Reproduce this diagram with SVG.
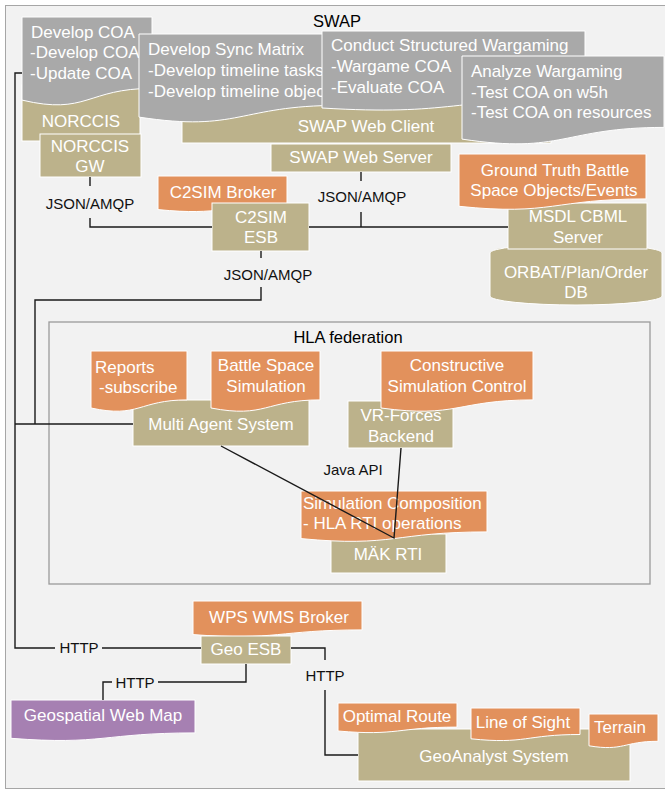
<svg xmlns="http://www.w3.org/2000/svg" width="665" height="790" viewBox="0 0 665 790">
  <style>
    .gray { fill: #a9a9a9; stroke: #ffffff; stroke-width: 1; }
    .tan { fill: #bcb28b; stroke: #ffffff; stroke-width: 1; }
    .orange { fill: #e2915c; stroke: #ffffff; stroke-width: 1; }
    .purple { fill: #a680b2; stroke: #ffffff; stroke-width: 1; }
    .t { font-family: "Liberation Sans", Arial, sans-serif; font-size: 17px; fill: #ffffff; }
    .c { text-anchor: middle; }
    .lbl { font-family: "Liberation Sans", Arial, sans-serif; font-size: 15px; fill: #111111; text-anchor: middle; }
    .title { font-family: "Liberation Sans", Arial, sans-serif; font-size: 16.5px; fill: #000000; text-anchor: middle; }
    .wire { fill: none; stroke: #1a1a1a; stroke-width: 1.4; }
  </style>

  <!-- canvas -->
  <rect x="0" y="0" width="665" height="790" fill="#ffffff"/>
  <rect x="5.5" y="5.5" width="670" height="783" fill="#f2f2f2" stroke="#a6a6a6" stroke-width="1"/>

  <!-- HLA federation frame -->
  <g id="hla-federation">
    <rect x="49" y="322" width="601" height="262" fill="#f2f2f2" stroke="#9a9a9a" stroke-width="1.3"/>
    <text class="title" x="348" y="343">HLA federation</text>
  </g>

  <text class="title" x="337" y="27">SWAP</text>

  <!-- SWAP / NORCCIS cluster -->
  <g id="norccis">
    <rect class="tan" x="22" y="85" width="118" height="56"/>
    <text class="t c" x="81" y="127">NORCCIS</text>
  </g>
  <g id="norccis-gw">
    <rect class="tan" x="40" y="134" width="101" height="43"/>
    <text class="t c" x="90" y="152">NORCCIS</text>
    <text class="t c" x="90" y="172">GW</text>
  </g>
  <g id="develop-coa">
    <path class="gray" d="M22,17 H152 V88.4 C87,88.4 87,115.5 22,100.1 Z"/>
    <text class="t" x="31" y="38">Develop COA</text>
    <text class="t" x="30" y="58">-Develop COA</text>
    <text class="t" x="30" y="79">-Update COA</text>
  </g>
  <g id="swap-web-client">
    <rect class="tan" x="182" y="100" width="369" height="43"/>
    <text class="t c" x="366" y="132">SWAP Web Client</text>
  </g>
  <g id="develop-sync-matrix">
    <path class="gray" d="M139,34 H339 V105.4 C239,105.4 239,132.5 139,117.1 Z"/>
    <text class="t" x="148" y="55">Develop Sync Matrix</text>
    <text class="t" x="148" y="76">-Develop timeline tasks</text>
    <text class="t" x="148" y="97">-Develop timeline objects</text>
  </g>
  <g id="conduct-wargaming">
    <path class="gray" d="M322,31 H585 V98 C453.5,98 453.5,116 322,108 Z"/>
    <text class="t" x="331" y="51">Conduct Structured Wargaming</text>
    <text class="t" x="331" y="72">-Wargame COA</text>
    <text class="t" x="331" y="93">-Evaluate COA</text>
  </g>
  <g id="analyze-wargaming">
    <path class="gray" d="M462,56 H664 V127.4 C563,127.4 563,154.5 462,139.1 Z"/>
    <text class="t" x="471" y="77">Analyze Wargaming</text>
    <text class="t" x="471" y="98">-Test COA on w5h</text>
    <text class="t" x="471" y="118">-Test COA on resources</text>
  </g>
  <g id="swap-web-server">
    <rect class="tan" x="271" y="144" width="180" height="28"/>
    <text class="t c" x="361" y="163">SWAP Web Server</text>
  </g>

  <!-- C2SIM -->
  <g id="c2sim-broker">
    <path class="orange" d="M158,176 H287 V204.9 C222.5,204.9 222.5,215.9 158,209.6 Z"/>
    <text class="t c" x="223" y="198">C2SIM Broker</text>
  </g>
  <g id="c2sim-esb">
    <rect class="tan" x="212" y="203" width="97" height="48"/>
    <text class="t c" x="261" y="223">C2SIM</text>
    <text class="t c" x="261" y="243">ESB</text>
  </g>

  <!-- MSDL / DB -->
  <g id="orbat-db">
    <path class="tan" d="M490,253 A86,9 0 0 1 662,253 V296 A86,9 0 0 1 490,296 Z"/>
    <text class="t c" x="576" y="278">ORBAT/Plan/Order</text>
    <text class="t c" x="576" y="298">DB</text>
  </g>
  <g id="msdl-cbml-server">
    <rect class="tan" x="508" y="203" width="139" height="46"/>
    <text class="t c" x="578" y="222">MSDL CBML</text>
    <text class="t c" x="578" y="243">Server</text>
  </g>
  <g id="ground-truth">
    <path class="orange" d="M459,154 H646 V198.9 C552.5,198.9 552.5,216 459,206.3 Z"/>
    <text class="t c" x="555" y="176">Ground Truth Battle</text>
    <text class="t c" x="554" y="196">Space Objects/Events</text>
  </g>

  <!-- HLA members -->
  <g id="multi-agent-system">
    <rect class="tan" x="133" y="400" width="176" height="46"/>
    <text class="t c" x="221" y="430">Multi Agent System</text>
  </g>
  <g id="reports">
    <path class="orange" d="M91,351 H187 V399.9 C139,399.9 139,418.5 91,408 Z"/>
    <text class="t" x="95" y="373">Reports</text>
    <text class="t" x="99" y="393">-subscribe</text>
  </g>
  <g id="battle-space-simulation">
    <path class="orange" d="M211,351 H320 V399.9 C265.5,399.9 265.5,418.5 211,408 Z"/>
    <text class="t c" x="266" y="371">Battle Space</text>
    <text class="t c" x="266" y="392">Simulation</text>
  </g>
  <g id="vr-forces-backend">
    <rect class="tan" x="348" y="401" width="105" height="47"/>
    <text class="t c" x="401" y="421">VR-Forces</text>
    <text class="t c" x="401" y="442">Backend</text>
  </g>
  <g id="constructive-simulation-control">
    <path class="orange" d="M381,351 H533 V399.9 C457,399.9 457,418.5 381,408 Z"/>
    <text class="t c" x="457" y="371">Constructive</text>
    <text class="t c" x="457" y="392">Simulation Control</text>
  </g>
  <g id="mak-rti">
    <rect class="tan" x="331" y="534" width="115" height="39"/>
    <text class="t c" x="388" y="560">MÄK RTI</text>
  </g>
  <g id="simulation-composition">
    <path class="orange" d="M301,491 H487 V531.9 C394,531.9 394,547.5 301,538.6 Z"/>
    <text class="t" x="303" y="509">Simulation Composition</text>
    <text class="t" x="303" y="529">- HLA RTI operations</text>
  </g>

  <!-- Geo services -->
  <g id="wps-wms-broker">
    <path class="orange" d="M193,601 H362 V629.9 C277.5,629.9 277.5,640.9 193,634.6 Z"/>
    <text class="t c" x="279" y="623">WPS WMS Broker</text>
  </g>
  <g id="geo-esb">
    <rect class="tan" x="201" y="636" width="90" height="28"/>
    <text class="t c" x="246" y="655">Geo ESB</text>
  </g>
  <g id="geospatial-web-map">
    <path class="purple" d="M11,700 H195 V732.9 C103,732.9 103,745.4 11,738.3 Z"/>
    <text class="t c" x="103" y="721">Geospatial Web Map</text>
  </g>
  <g id="geoanalyst-system">
    <rect class="tan" x="358" y="729" width="272" height="52"/>
    <text class="t c" x="494" y="762">GeoAnalyst System</text>
  </g>
  <g id="optimal-route">
    <path class="orange" d="M338,703 H457 V727.1 C397.5,727.1 397.5,736.2 338,731 Z"/>
    <text class="t c" x="397" y="722">Optimal Route</text>
  </g>
  <g id="line-of-sight">
    <path class="orange" d="M471,708 H580 V734.5 C525.5,734.5 525.5,744.5 471,738.8 Z"/>
    <text class="t c" x="523" y="728">Line of Sight</text>
  </g>
  <g id="terrain">
    <path class="orange" d="M589,714 H658 V741.3 C623.5,741.3 623.5,751.6 589,745.8 Z"/>
    <text class="t c" x="620" y="733">Terrain</text>
  </g>

  <!-- connectors -->
  <g id="connectors">
    <path class="wire" d="M22,73 H15 V648 H55"/>
    <path class="wire" d="M102,648 H201"/>
    <path class="wire" d="M15,424 H133"/>
    <path class="wire" d="M261,251 V258"/>
    <path class="wire" d="M261,287 V300 H35 V424"/>
    <path class="wire" d="M90,177 V186"/>
    <path class="wire" d="M90,218 V227 H212"/>
    <path class="wire" d="M361,172 V181"/>
    <path class="wire" d="M361,212 V227"/>
    <path class="wire" d="M309,227 H508"/>
    <path class="wire" d="M221,446 L394,538 L401,448"/>
    <path class="wire" d="M246,664 V682 H158"/>
    <path class="wire" d="M112,682 H103 V700"/>
    <path class="wire" d="M291,648 H325 V660"/>
    <path class="wire" d="M325,690 V755 H358"/>

    <text class="lbl" x="90" y="209">JSON/AMQP</text>
    <text class="lbl" x="362" y="202">JSON/AMQP</text>
    <text class="lbl" x="268" y="280">JSON/AMQP</text>
    <text class="lbl" x="353" y="475">Java API</text>
    <text class="lbl" x="79" y="653">HTTP</text>
    <text class="lbl" x="135" y="688">HTTP</text>
    <text class="lbl" x="325" y="681">HTTP</text>
  </g>
</svg>
